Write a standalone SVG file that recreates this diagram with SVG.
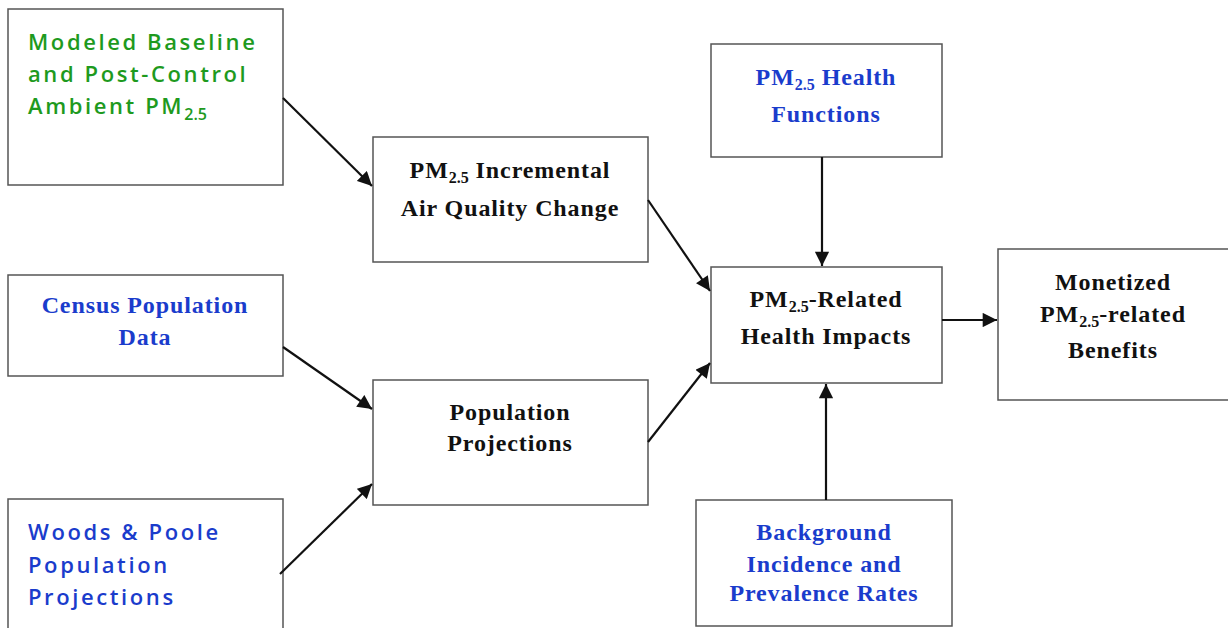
<svg xmlns="http://www.w3.org/2000/svg" width="1228" height="628" viewBox="0 0 1228 628">
<style>
.box{fill:#fff;stroke:#555;stroke-width:1.5}
.ser{font-family:"Liberation Serif","Times New Roman",serif;font-weight:bold;font-size:24px;letter-spacing:0.9px;text-anchor:middle}
.san{font-family:"Open Sans","Liberation Sans",sans-serif;font-weight:600;font-size:22px;letter-spacing:2.6px}
.blk{fill:#111}
.blu{fill:#1a3ccc}
.grn{fill:#1e9a1e}
.sub{font-size:16px;letter-spacing:0}
.con line{stroke:#111;stroke-width:2.2;marker-end:url(#ah)}
</style>
<defs>
<marker id="ah" viewBox="0 0 10 10" refX="10" refY="5" markerWidth="7" markerHeight="6.5" markerUnits="strokeWidth" orient="auto">
<path d="M0,0 L10,5 L0,10 z" fill="#111"/>
</marker>
</defs>
<rect width="1228" height="628" fill="#fff"/>
<g id="modeled">
<rect class="box" x="8" y="9" width="275" height="176"/>
<text class="san grn" x="28" y="50">Modeled Baseline</text>
<text class="san grn" x="28" y="82">and Post-Control</text>
<text class="san grn" x="28" y="114">Ambient PM<tspan class="sub" dy="6">2.5</tspan></text>
</g>
<g id="incremental">
<rect class="box" x="373" y="137" width="275" height="125"/>
<text class="ser blk" x="510" y="178">PM<tspan class="sub" dy="5">2.5</tspan><tspan dy="-5"> Incremental</tspan></text>
<text class="ser blk" x="510" y="216">Air Quality Change</text>
</g>
<g id="census">
<rect class="box" x="8" y="275" width="275" height="101"/>
<text class="ser blu" x="145" y="313">Census Population</text>
<text class="ser blu" x="145" y="345">Data</text>
</g>
<g id="projections">
<rect class="box" x="373" y="380" width="275" height="125"/>
<text class="ser blk" x="510" y="420">Population</text>
<text class="ser blk" x="510" y="451">Projections</text>
</g>
<g id="woods">
<rect class="box" x="8" y="499" width="275" height="140"/>
<text class="san blu" x="28" y="540">Woods &amp; Poole</text>
<text class="san blu" x="28" y="573">Population</text>
<text class="san blu" x="28" y="605">Projections</text>
</g>
<g id="healthfn">
<rect class="box" x="711" y="44" width="231" height="113"/>
<text class="ser blu" x="826" y="85">PM<tspan class="sub" dy="5">2.5</tspan><tspan dy="-5"> Health</tspan></text>
<text class="ser blu" x="826" y="122">Functions</text>
</g>
<g id="impacts">
<rect class="box" x="711" y="267" width="231" height="116"/>
<text class="ser blk" x="826" y="307">PM<tspan class="sub" dy="5">2.5</tspan><tspan dy="-5">-Related</tspan></text>
<text class="ser blk" x="826" y="344">Health Impacts</text>
</g>
<g id="monetized">
<rect class="box" x="998" y="249" width="240" height="151"/>
<text class="ser blk" x="1113" y="290">Monetized</text>
<text class="ser blk" x="1113" y="322">PM<tspan class="sub" dy="5">2.5</tspan><tspan dy="-5">-related</tspan></text>
<text class="ser blk" x="1113" y="358">Benefits</text>
</g>
<g id="background">
<rect class="box" x="696" y="500" width="256" height="126"/>
<text class="ser blu" x="824" y="540">Background</text>
<text class="ser blu" x="824" y="572">Incidence and</text>
<text class="ser blu" x="824" y="601">Prevalence Rates</text>
</g>
<g class="con" id="connectors">
<line x1="283" y1="98" x2="372" y2="186"/>
<line x1="648" y1="200" x2="710" y2="291"/>
<line x1="283" y1="347" x2="372" y2="409"/>
<line x1="280" y1="574" x2="372" y2="484"/>
<line x1="648" y1="442" x2="710" y2="363"/>
<line x1="822" y1="157" x2="822" y2="266"/>
<line x1="826" y1="500" x2="826" y2="384"/>
<line x1="942" y1="320" x2="997" y2="320"/>
</g>
</svg>
